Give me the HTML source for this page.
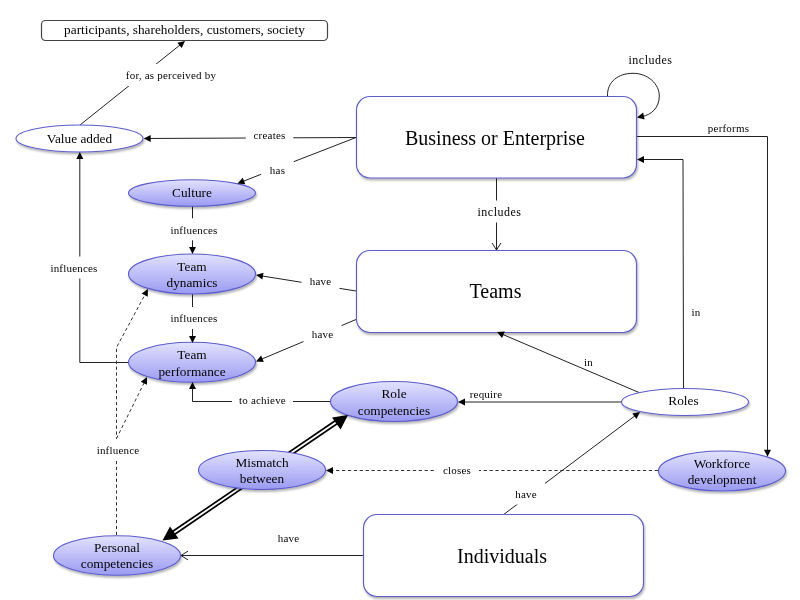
<!DOCTYPE html>
<html><head><meta charset="utf-8">
<style>
html,body{margin:0;padding:0;background:#fff;width:800px;height:600px;overflow:hidden}
svg{display:block}
text{font-family:"Liberation Serif",serif;fill:#000}
.n{font-size:13.3px;text-anchor:middle}
.b{font-size:20px;text-anchor:middle}
.l{font-size:11px;text-anchor:middle;letter-spacing:0.2px;fill:#000}
.ln{stroke:#222;stroke-width:1;fill:none}
.ds{stroke:#333;stroke-width:1;fill:none;stroke-dasharray:3.3 2.6}
.box{fill:#fff;stroke:#5f5fc8;stroke-width:1.2}
.el{fill:url(#g);stroke:#5c5cca;stroke-width:1.1}
.elw{fill:#fff;stroke:#5c5cca;stroke-width:1.1}
.ah{fill:#000}
</style></head>
<body>
<svg width="800" height="600" viewBox="0 0 800 600">
<defs>
<linearGradient id="g" x1="0" y1="0" x2="0" y2="1">
<stop offset="0" stop-color="#e2e2fe"/>
<stop offset="1" stop-color="#9a9af2"/>
</linearGradient>
<filter id="sh" x="-20%" y="-20%" width="140%" height="150%">
<feGaussianBlur in="SourceAlpha" stdDeviation="1.2"/>
<feOffset dx="1" dy="2" result="o"/>
<feComponentTransfer><feFuncA type="linear" slope="0.3"/></feComponentTransfer>
<feMerge><feMergeNode/><feMergeNode in="SourceGraphic"/></feMerge>
</filter>
</defs>

<!-- connectors -->
<path class="ln" d="M80.00,125.00 L180.31,44.75"/>
<path class="ln" d="M356.00,137.50 L149.70,138.47"/>
<path class="ln" d="M356.00,137.50 L243.09,181.33"/>
<path class="ln" d="M192.50,206.00 L192.50,248.00"/>
<path class="ln" d="M356.00,291.00 L261.92,275.95"/>
<path class="ln" d="M192.50,294.00 L192.50,337.00"/>
<path class="ln" d="M356.00,319.50 L261.53,359.18"/>
<path class="ln" d="M128.00,362.50 L79.80,362.50 L79.80,158.00"/>
<path class="ln" d="M330.00,401.50 L192.50,401.50 L192.50,388.00"/>
<path class="ln" d="M621.00,402.00 L464.00,402.00"/>
<path class="ln" d="M639.00,392.50 L502.52,334.35"/>
<path class="ln" d="M683.50,388.00 L683.00,159.50 L643.00,159.50"/>
<path class="ln" d="M637.00,136.50 L767.50,136.50 L767.50,450.70"/>
<path class="ln" d="M607.5,96 C607,82 618,73.3 633,73.3 C648,73.3 659.3,84 659.3,96 C659.3,108 651,115 642,116.5"/>
<path class="ln" d="M496.50,178.00 L496.50,250.00"/>
<path class="ds" d="M658.00,470.50 L332.00,470.50"/>
<path class="ln" d="M363.00,555.50 L181.00,555.50"/>
<path class="ln" d="M503.00,515.00 L635.20,415.61"/>
<path class="ds" d="M116.50,535.00 L116.50,347.50 L145.16,294.28"/>
<path class="ds" d="M116.50,438.50 L144.33,382.38"/>
<!-- double line -->
<g>
<path d="M172,534 L338,421" stroke="#000" stroke-width="5.2" fill="none"/>
<path d="M172,534 L338,421" stroke="#fff" stroke-width="1.8" fill="none"/>
</g>

<!-- nodes -->
<rect x="41.5" y="20.5" width="286" height="20" rx="4" fill="#fff" stroke="#444" stroke-width="1.2"/>
<g style="opacity:0.99"><text class="n" x="184.5" y="34">participants, shareholders, customers, society</text></g>

<g filter="url(#sh)">
<rect class="box" x="356.5" y="96.5" width="280" height="81.5" rx="13.5"/>
<rect class="box" x="356.5" y="250.5" width="280" height="82" rx="13.5"/>
<rect class="box" x="363.5" y="514.5" width="280" height="82" rx="13.5"/>
<ellipse class="elw" cx="79.5" cy="138.5" rx="63.5" ry="13.5"/>
<ellipse class="el" cx="192" cy="193" rx="63.5" ry="13.3"/>
<ellipse class="el" cx="192" cy="274" rx="63.5" ry="20"/>
<ellipse class="el" cx="192" cy="362.3" rx="63.5" ry="20"/>
<ellipse class="el" cx="394" cy="401.5" rx="63.5" ry="20"/>
<ellipse class="elw" cx="685" cy="402" rx="63.5" ry="13.5"/>
<ellipse class="el" cx="262" cy="470" rx="63.5" ry="19.5"/>
<ellipse class="el" cx="722" cy="471" rx="63.5" ry="20"/>
<ellipse class="el" cx="117" cy="555.5" rx="63.5" ry="19.7"/>
</g>

<path class="ah" d="M185.00,41.00 L181.72,48.11 L177.35,42.64 Z"/>
<path class="ah" d="M143.70,138.50 L150.68,134.97 L150.72,141.97 Z"/>
<path class="ah" d="M237.50,183.50 L242.76,177.70 L245.29,184.23 Z"/>
<path class="ah" d="M192.50,254.00 L189.00,247.00 L196.00,247.00 Z"/>
<path class="ah" d="M256.00,275.00 L263.47,272.65 L262.36,279.56 Z"/>
<path class="ah" d="M192.50,343.00 L189.00,336.00 L196.00,336.00 Z"/>
<path class="ah" d="M256.00,361.50 L261.10,355.56 L263.81,362.02 Z"/>
<path class="ah" d="M79.80,152.00 L83.30,159.00 L76.30,159.00 Z"/>
<path class="ah" d="M192.50,382.00 L196.00,389.00 L189.00,389.00 Z"/>
<path class="ah" d="M458.00,402.00 L465.00,398.50 L465.00,405.50 Z"/>
<path class="ah" d="M497.00,332.00 L504.81,331.52 L502.07,337.96 Z"/>
<path class="ah" d="M637.00,159.50 L644.00,156.00 L644.00,163.00 Z"/>
<path class="ah" d="M767.50,456.70 L764.00,449.70 L771.00,449.70 Z"/>
<path class="ah" d="M637.00,117.50 L643.10,112.60 L644.58,119.44 Z"/>
<path class="ln" d="M492.10,243.00 L496.50,250.00 L500.90,243.00"/>
<path class="ah" d="M326.00,470.50 L333.00,467.00 L333.00,474.00 Z"/>
<path class="ln" d="M188.00,551.10 L181.00,555.50 L188.00,559.90"/>
<path class="ah" d="M640.00,412.00 L636.51,419.00 L632.30,413.41 Z"/>
<path class="ah" d="M148.00,289.00 L147.76,296.82 L141.60,293.50 Z"/>
<path class="ah" d="M147.00,377.00 L147.03,384.83 L140.75,381.72 Z"/>
<rect x="118.8" y="64.0" width="104.5" height="22" fill="#fff"/>
<rect x="245.8" y="124.0" width="47.5" height="22" fill="#fff"/>
<rect x="261.2" y="158.5" width="32.5" height="22" fill="#fff"/>
<rect x="163.0" y="218.3" width="62.0" height="22" fill="#fff"/>
<rect x="163.0" y="307.0" width="62.0" height="22" fill="#fff"/>
<rect x="301.5" y="269.5" width="38.0" height="22" fill="#fff"/>
<rect x="303.5" y="322.5" width="38.0" height="22" fill="#fff"/>
<rect x="43.0" y="256.5" width="62.0" height="22" fill="#fff"/>
<rect x="232.0" y="388.5" width="61.0" height="22" fill="#fff"/>
<rect x="469.5" y="200.5" width="60.0" height="22" fill="#fff"/>
<rect x="435.0" y="458.5" width="44.0" height="22" fill="#fff"/>
<rect x="507.0" y="482.5" width="38.0" height="22" fill="#fff"/>
<rect x="89.0" y="439.0" width="58.0" height="22" fill="#fff"/>
<path class="ah" d="M348,415 L332,417.5 L340.6,429.5 Z"/>
<path class="ah" d="M162.5,540.6 L178.5,538.5 L170,526.5 Z"/>
<g style="opacity:0.99">
<text class="b" x="495" y="145">Business or Enterprise</text>
<text class="b" x="495.5" y="298">Teams</text>
<text class="b" x="502" y="563">Individuals</text>

<text class="n" x="79.5" y="142.8">Value added</text>
<text class="n" x="192" y="196.9">Culture</text>
<text class="n" x="192" y="270.7">Team</text>
<text class="n" x="192" y="287.2">dynamics</text>
<text class="n" x="192" y="359.4">Team</text>
<text class="n" x="192" y="376.3">performance</text>
<text class="n" x="394" y="398">Role</text>
<text class="n" x="394" y="414.9">competencies</text>
<text class="n" x="683.5" y="405.4">Roles</text>
<text class="n" x="262" y="467">Mismatch</text>
<text class="n" x="262" y="483.4">between</text>
<text class="n" x="722" y="467.5">Workforce</text>
<text class="n" x="722" y="483.7">development</text>
<text class="n" x="117" y="551.8">Personal</text>
<text class="n" x="117" y="567.8">competencies</text>

<!-- labels -->
<text class="l" x="171" y="79.2">for, as perceived by</text>
<text class="l" x="269.5" y="139.2">creates</text>
<text class="l" x="277.5" y="173.7">has</text>
<text class="l" x="194" y="233.5">influences</text>
<text class="l" x="194" y="322.2">influences</text>
<text class="l" x="320.5" y="284.7">have</text>
<text class="l" x="322.5" y="337.7">have</text>
<text class="l" x="74" y="271.7">influences</text>
<text class="l" x="262.5" y="403.7">to achieve</text>
<text class="l" x="486" y="397.7">require</text>
<text class="l" x="588.5" y="365.7">in</text>
<text class="l" x="696" y="315.9">in</text>
<text class="l" x="728.5" y="132.2">performs</text>
<text class="l" x="650.5" y="63.7" style="letter-spacing:0.5px;font-size:12px;">includes</text>
<text class="l" x="499.5" y="215.7" style="letter-spacing:0.5px;font-size:12px;">includes</text>
<text class="l" x="457" y="473.7">closes</text>
<text class="l" x="288.5" y="541.7">have</text>
<text class="l" x="526" y="497.7">have</text>
<text class="l" x="118" y="454.2">influence</text>
</g>
</svg>
</body></html>
